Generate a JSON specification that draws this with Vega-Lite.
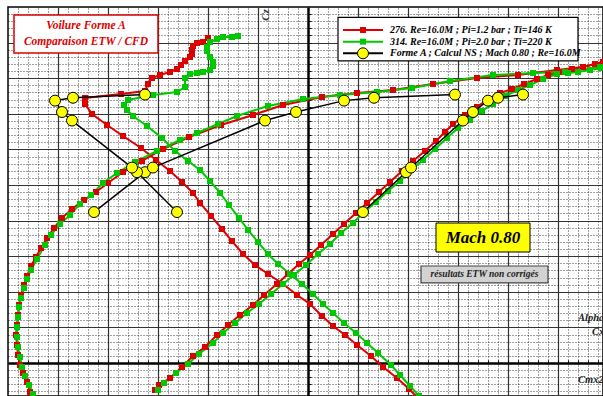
{
  "$schema": "https://vega.github.io/schema/vega-lite/v6.json",
  "width": 595,
  "height": 389,
  "autosize": "none",
  "padding": {"left": 8, "top": 7, "right": 0, "bottom": 0},
  "background": "white",
  "config": {"view": {"stroke": "black", "strokeWidth": 1.5}, "font": "Liberation Serif"},
  "datasets": {
    "etw": [
      {"serie": "276", "courbe": "alpha", "x": -15.3, "y": -3.79}, {"serie": "276", "courbe": "alpha", "x": -14.9, "y": -3.09}, {"serie": "276", "courbe": "alpha", "x": -13.8, "y": -2.11}, {"serie": "276", "courbe": "alpha", "x": -12.6, "y": -0.56}, {"serie": "276", "courbe": "alpha", "x": -11.5, "y": 0.98}, {"serie": "276", "courbe": "alpha", "x": -10.3, "y": 2.25}, {"serie": "276", "courbe": "alpha", "x": -9.1, "y": 3.93}, {"serie": "276", "courbe": "alpha", "x": -8.0, "y": 5.34}, {"serie": "276", "courbe": "alpha", "x": -6.8, "y": 6.74}, {"serie": "276", "courbe": "alpha", "x": -5.5, "y": 8.15}, {"serie": "276", "courbe": "alpha", "x": -4.4, "y": 9.55}, {"serie": "276", "courbe": "alpha", "x": -3.1, "y": 11.10}, {"serie": "276", "courbe": "alpha", "x": -2.0, "y": 12.50}, {"serie": "276", "courbe": "alpha", "x": -0.9, "y": 13.90}, {"serie": "276", "courbe": "alpha", "x": 0.2, "y": 15.17}, {"serie": "276", "courbe": "alpha", "x": 1.3, "y": 16.57}, {"serie": "276", "courbe": "alpha", "x": 2.5, "y": 18.12}, {"serie": "276", "courbe": "alpha", "x": 3.6, "y": 19.52}, {"serie": "276", "courbe": "alpha", "x": 4.8, "y": 21.07}, {"serie": "276", "courbe": "alpha", "x": 5.9, "y": 22.47}, {"serie": "276", "courbe": "alpha", "x": 7.1, "y": 24.02}, {"serie": "276", "courbe": "alpha", "x": 8.2, "y": 25.42}, {"serie": "276", "courbe": "alpha", "x": 9.4, "y": 26.97}, {"serie": "276", "courbe": "alpha", "x": 10.5, "y": 28.37}, {"serie": "276", "courbe": "alpha", "x": 11.7, "y": 29.78}, {"serie": "276", "courbe": "alpha", "x": 12.8, "y": 31.18}, {"serie": "276", "courbe": "alpha", "x": 13.7, "y": 32.44}, {"serie": "276", "courbe": "alpha", "x": 14.5, "y": 33.57}, {"serie": "276", "courbe": "alpha", "x": 15.7, "y": 34.83}, {"serie": "276", "courbe": "alpha", "x": 16.9, "y": 35.96}, {"serie": "276", "courbe": "alpha", "x": 18.0, "y": 37.08}, {"serie": "276", "courbe": "alpha", "x": 19.2, "y": 37.92}, {"serie": "276", "courbe": "alpha", "x": 20.4, "y": 38.48}, {"serie": "276", "courbe": "alpha", "x": 21.6, "y": 39.19}, {"serie": "276", "courbe": "alpha", "x": 22.9, "y": 39.89}, {"serie": "276", "courbe": "alpha", "x": 24.0, "y": 40.45}, {"serie": "276", "courbe": "alpha", "x": 25.2, "y": 40.87}, {"serie": "276", "courbe": "alpha", "x": 26.4, "y": 41.29}, {"serie": "276", "courbe": "alpha", "x": 27.5, "y": 41.57}, {"serie": "276", "courbe": "alpha", "x": 28.7, "y": 41.99}, {"serie": "276", "courbe": "alpha", "x": 29.8, "y": 42.28},
      {"serie": "276", "courbe": "polaire", "x": -27.8, "y": -4.07}, {"serie": "276", "courbe": "polaire", "x": -28.1, "y": -2.67}, {"serie": "276", "courbe": "polaire", "x": -28.5, "y": -1.40}, {"serie": "276", "courbe": "polaire", "x": -28.8, "y": -0.28}, {"serie": "276", "courbe": "polaire", "x": -29.0, "y": 1.12}, {"serie": "276", "courbe": "polaire", "x": -29.1, "y": 2.53}, {"serie": "276", "courbe": "polaire", "x": -29.2, "y": 3.93}, {"serie": "276", "courbe": "polaire", "x": -29.1, "y": 5.34}, {"serie": "276", "courbe": "polaire", "x": -29.0, "y": 6.74}, {"serie": "276", "courbe": "polaire", "x": -28.9, "y": 8.15}, {"serie": "276", "courbe": "polaire", "x": -28.7, "y": 9.55}, {"serie": "276", "courbe": "polaire", "x": -28.4, "y": 10.96}, {"serie": "276", "courbe": "polaire", "x": -28.1, "y": 12.22}, {"serie": "276", "courbe": "polaire", "x": -27.7, "y": 13.62}, {"serie": "276", "courbe": "polaire", "x": -27.2, "y": 14.89}, {"serie": "276", "courbe": "polaire", "x": -26.7, "y": 16.15}, {"serie": "276", "courbe": "polaire", "x": -26.1, "y": 17.56}, {"serie": "276", "courbe": "polaire", "x": -25.4, "y": 18.96}, {"serie": "276", "courbe": "polaire", "x": -24.6, "y": 20.37}, {"serie": "276", "courbe": "polaire", "x": -23.6, "y": 21.63}, {"serie": "276", "courbe": "polaire", "x": -22.4, "y": 22.89}, {"serie": "276", "courbe": "polaire", "x": -21.2, "y": 24.02}, {"serie": "276", "courbe": "polaire", "x": -20.0, "y": 25.28}, {"serie": "276", "courbe": "polaire", "x": -18.5, "y": 26.83}, {"serie": "276", "courbe": "polaire", "x": -16.6, "y": 28.37}, {"serie": "276", "courbe": "polaire", "x": -14.5, "y": 30.06}, {"serie": "276", "courbe": "polaire", "x": -11.9, "y": 31.74}, {"serie": "276", "courbe": "polaire", "x": -8.7, "y": 33.43}, {"serie": "276", "courbe": "polaire", "x": -5.5, "y": 34.83}, {"serie": "276", "courbe": "polaire", "x": -2.5, "y": 36.24}, {"serie": "276", "courbe": "polaire", "x": 1.4, "y": 37.36}, {"serie": "276", "courbe": "polaire", "x": 4.9, "y": 37.92}, {"serie": "276", "courbe": "polaire", "x": 8.5, "y": 38.34}, {"serie": "276", "courbe": "polaire", "x": 12.5, "y": 39.19}, {"serie": "276", "courbe": "polaire", "x": 16.9, "y": 40.03}, {"serie": "276", "courbe": "polaire", "x": 21.0, "y": 40.45}, {"serie": "276", "courbe": "polaire", "x": 24.9, "y": 41.15}, {"serie": "276", "courbe": "polaire", "x": 27.5, "y": 41.57}, {"serie": "276", "courbe": "polaire", "x": 29.5, "y": 42.28},
      {"serie": "276", "courbe": "moment", "x": -10.0, "y": 45.65}, {"serie": "276", "courbe": "moment", "x": -10.5, "y": 45.08}, {"serie": "276", "courbe": "moment", "x": -11.1, "y": 44.94}, {"serie": "276", "courbe": "moment", "x": -11.5, "y": 44.52}, {"serie": "276", "courbe": "moment", "x": -11.6, "y": 43.96}, {"serie": "276", "courbe": "moment", "x": -11.6, "y": 43.40}, {"serie": "276", "courbe": "moment", "x": -11.8, "y": 42.98}, {"serie": "276", "courbe": "moment", "x": -12.3, "y": 42.42}, {"serie": "276", "courbe": "moment", "x": -12.7, "y": 41.85}, {"serie": "276", "courbe": "moment", "x": -13.1, "y": 41.29}, {"serie": "276", "courbe": "moment", "x": -13.8, "y": 40.87}, {"serie": "276", "courbe": "moment", "x": -14.8, "y": 40.45}, {"serie": "276", "courbe": "moment", "x": -15.6, "y": 40.03}, {"serie": "276", "courbe": "moment", "x": -16.0, "y": 39.19}, {"serie": "276", "courbe": "moment", "x": -16.3, "y": 38.20}, {"serie": "276", "courbe": "moment", "x": -18.7, "y": 37.78}, {"serie": "276", "courbe": "moment", "x": -22.3, "y": 37.22}, {"serie": "276", "courbe": "moment", "x": -22.3, "y": 36.38}, {"serie": "276", "courbe": "moment", "x": -21.6, "y": 34.97}, {"serie": "276", "courbe": "moment", "x": -20.1, "y": 33.43}, {"serie": "276", "courbe": "moment", "x": -18.5, "y": 31.88}, {"serie": "276", "courbe": "moment", "x": -16.7, "y": 30.20}, {"serie": "276", "courbe": "moment", "x": -15.2, "y": 28.51}, {"serie": "276", "courbe": "moment", "x": -13.8, "y": 26.97}, {"serie": "276", "courbe": "moment", "x": -12.6, "y": 25.42}, {"serie": "276", "courbe": "moment", "x": -11.5, "y": 23.88}, {"serie": "276", "courbe": "moment", "x": -10.8, "y": 22.47}, {"serie": "276", "courbe": "moment", "x": -9.7, "y": 20.65}, {"serie": "276", "courbe": "moment", "x": -8.6, "y": 18.82}, {"serie": "276", "courbe": "moment", "x": -7.6, "y": 17.13}, {"serie": "276", "courbe": "moment", "x": -6.5, "y": 15.31}, {"serie": "276", "courbe": "moment", "x": -5.3, "y": 13.76}, {"serie": "276", "courbe": "moment", "x": -4.0, "y": 12.50}, {"serie": "276", "courbe": "moment", "x": -2.5, "y": 11.10}, {"serie": "276", "courbe": "moment", "x": -1.1, "y": 9.55}, {"serie": "276", "courbe": "moment", "x": 0.2, "y": 8.29}, {"serie": "276", "courbe": "moment", "x": 1.4, "y": 6.60}, {"serie": "276", "courbe": "moment", "x": 2.5, "y": 5.20}, {"serie": "276", "courbe": "moment", "x": 3.7, "y": 3.93}, {"serie": "276", "courbe": "moment", "x": 4.9, "y": 2.53}, {"serie": "276", "courbe": "moment", "x": 6.3, "y": 0.98}, {"serie": "276", "courbe": "moment", "x": 7.5, "y": -0.56}, {"serie": "276", "courbe": "moment", "x": 8.9, "y": -2.11}, {"serie": "276", "courbe": "moment", "x": 10.1, "y": -3.65}, {"serie": "276", "courbe": "moment", "x": 11.2, "y": -5.20},
      {"serie": "314", "courbe": "alpha", "x": -15.0, "y": -3.79}, {"serie": "314", "courbe": "alpha", "x": -14.4, "y": -2.81}, {"serie": "314", "courbe": "alpha", "x": -13.2, "y": -1.40}, {"serie": "314", "courbe": "alpha", "x": -12.0, "y": -0.14}, {"serie": "314", "courbe": "alpha", "x": -10.9, "y": 1.26}, {"serie": "314", "courbe": "alpha", "x": -9.5, "y": 2.81}, {"serie": "314", "courbe": "alpha", "x": -8.5, "y": 4.21}, {"serie": "314", "courbe": "alpha", "x": -7.3, "y": 5.62}, {"serie": "314", "courbe": "alpha", "x": -6.1, "y": 7.02}, {"serie": "314", "courbe": "alpha", "x": -4.9, "y": 8.29}, {"serie": "314", "courbe": "alpha", "x": -3.7, "y": 9.69}, {"serie": "314", "courbe": "alpha", "x": -2.5, "y": 11.10}, {"serie": "314", "courbe": "alpha", "x": -1.4, "y": 12.36}, {"serie": "314", "courbe": "alpha", "x": -0.2, "y": 13.76}, {"serie": "314", "courbe": "alpha", "x": 1.0, "y": 15.31}, {"serie": "314", "courbe": "alpha", "x": 2.2, "y": 16.71}, {"serie": "314", "courbe": "alpha", "x": 3.3, "y": 18.26}, {"serie": "314", "courbe": "alpha", "x": 4.5, "y": 19.66}, {"serie": "314", "courbe": "alpha", "x": 5.6, "y": 21.21}, {"serie": "314", "courbe": "alpha", "x": 6.8, "y": 22.61}, {"serie": "314", "courbe": "alpha", "x": 8.0, "y": 24.16}, {"serie": "314", "courbe": "alpha", "x": 9.2, "y": 25.56}, {"serie": "314", "courbe": "alpha", "x": 10.3, "y": 27.11}, {"serie": "314", "courbe": "alpha", "x": 11.5, "y": 28.51}, {"serie": "314", "courbe": "alpha", "x": 12.7, "y": 30.06}, {"serie": "314", "courbe": "alpha", "x": 13.9, "y": 31.60}, {"serie": "314", "courbe": "alpha", "x": 15.0, "y": 33.01}, {"serie": "314", "courbe": "alpha", "x": 16.2, "y": 34.13}, {"serie": "314", "courbe": "alpha", "x": 17.4, "y": 35.39}, {"serie": "314", "courbe": "alpha", "x": 18.5, "y": 36.38}, {"serie": "314", "courbe": "alpha", "x": 19.7, "y": 37.50}, {"serie": "314", "courbe": "alpha", "x": 21.0, "y": 38.34}, {"serie": "314", "courbe": "alpha", "x": 22.2, "y": 39.04}, {"serie": "314", "courbe": "alpha", "x": 23.5, "y": 39.89}, {"serie": "314", "courbe": "alpha", "x": 24.9, "y": 40.59}, {"serie": "314", "courbe": "alpha", "x": 26.0, "y": 40.73}, {"serie": "314", "courbe": "alpha", "x": 27.0, "y": 40.87}, {"serie": "314", "courbe": "alpha", "x": 28.2, "y": 41.15}, {"serie": "314", "courbe": "alpha", "x": 29.3, "y": 41.43},
      {"serie": "314", "courbe": "polaire", "x": -27.5, "y": -4.35}, {"serie": "314", "courbe": "polaire", "x": -27.9, "y": -3.09}, {"serie": "314", "courbe": "polaire", "x": -28.3, "y": -1.83}, {"serie": "314", "courbe": "polaire", "x": -28.6, "y": -0.56}, {"serie": "314", "courbe": "polaire", "x": -28.8, "y": 0.84}, {"serie": "314", "courbe": "polaire", "x": -29.0, "y": 2.25}, {"serie": "314", "courbe": "polaire", "x": -29.1, "y": 3.65}, {"serie": "314", "courbe": "polaire", "x": -29.1, "y": 5.06}, {"serie": "314", "courbe": "polaire", "x": -29.0, "y": 6.46}, {"serie": "314", "courbe": "polaire", "x": -28.9, "y": 7.87}, {"serie": "314", "courbe": "polaire", "x": -28.7, "y": 9.13}, {"serie": "314", "courbe": "polaire", "x": -28.4, "y": 10.53}, {"serie": "314", "courbe": "polaire", "x": -28.1, "y": 11.80}, {"serie": "314", "courbe": "polaire", "x": -27.7, "y": 13.06}, {"serie": "314", "courbe": "polaire", "x": -27.1, "y": 14.61}, {"serie": "314", "courbe": "polaire", "x": -26.3, "y": 16.57}, {"serie": "314", "courbe": "polaire", "x": -25.7, "y": 17.98}, {"serie": "314", "courbe": "polaire", "x": -24.8, "y": 19.52}, {"serie": "314", "courbe": "polaire", "x": -23.8, "y": 20.79}, {"serie": "314", "courbe": "polaire", "x": -22.8, "y": 22.33}, {"serie": "314", "courbe": "polaire", "x": -21.7, "y": 23.60}, {"serie": "314", "courbe": "polaire", "x": -20.5, "y": 25.28}, {"serie": "314", "courbe": "polaire", "x": -19.1, "y": 26.69}, {"serie": "314", "courbe": "polaire", "x": -17.3, "y": 28.23}, {"serie": "314", "courbe": "polaire", "x": -15.1, "y": 29.78}, {"serie": "314", "courbe": "polaire", "x": -12.8, "y": 31.32}, {"serie": "314", "courbe": "polaire", "x": -11.1, "y": 32.30}, {"serie": "314", "courbe": "polaire", "x": -9.0, "y": 33.57}, {"serie": "314", "courbe": "polaire", "x": -7.1, "y": 34.69}, {"serie": "314", "courbe": "polaire", "x": -4.0, "y": 36.10}, {"serie": "314", "courbe": "polaire", "x": -0.5, "y": 37.08}, {"serie": "314", "courbe": "polaire", "x": 3.2, "y": 37.64}, {"serie": "314", "courbe": "polaire", "x": 6.9, "y": 38.06}, {"serie": "314", "courbe": "polaire", "x": 10.4, "y": 38.62}, {"serie": "314", "courbe": "polaire", "x": 14.2, "y": 39.61}, {"serie": "314", "courbe": "polaire", "x": 18.5, "y": 40.45}, {"serie": "314", "courbe": "polaire", "x": 22.5, "y": 40.73}, {"serie": "314", "courbe": "polaire", "x": 25.7, "y": 40.87}, {"serie": "314", "courbe": "polaire", "x": 29.2, "y": 41.57},
      {"serie": "314", "courbe": "moment", "x": -7.0, "y": 45.93}, {"serie": "314", "courbe": "moment", "x": -7.6, "y": 45.79}, {"serie": "314", "courbe": "moment", "x": -8.5, "y": 45.79}, {"serie": "314", "courbe": "moment", "x": -9.1, "y": 45.51}, {"serie": "314", "courbe": "moment", "x": -9.8, "y": 45.08}, {"serie": "314", "courbe": "moment", "x": -10.1, "y": 44.38}, {"serie": "314", "courbe": "moment", "x": -10.1, "y": 43.82}, {"serie": "314", "courbe": "moment", "x": -9.8, "y": 42.98}, {"serie": "314", "courbe": "moment", "x": -9.5, "y": 42.28}, {"serie": "314", "courbe": "moment", "x": -9.5, "y": 41.71}, {"serie": "314", "courbe": "moment", "x": -9.8, "y": 41.15}, {"serie": "314", "courbe": "moment", "x": -10.5, "y": 40.87}, {"serie": "314", "courbe": "moment", "x": -11.1, "y": 40.73}, {"serie": "314", "courbe": "moment", "x": -11.8, "y": 40.59}, {"serie": "314", "courbe": "moment", "x": -12.3, "y": 40.03}, {"serie": "314", "courbe": "moment", "x": -12.3, "y": 38.76}, {"serie": "314", "courbe": "moment", "x": -13.1, "y": 38.06}, {"serie": "314", "courbe": "moment", "x": -15.5, "y": 37.64}, {"serie": "314", "courbe": "moment", "x": -18.0, "y": 36.94}, {"serie": "314", "courbe": "moment", "x": -18.4, "y": 36.24}, {"serie": "314", "courbe": "moment", "x": -18.1, "y": 35.53}, {"serie": "314", "courbe": "moment", "x": -17.5, "y": 34.69}, {"serie": "314", "courbe": "moment", "x": -16.1, "y": 33.29}, {"serie": "314", "courbe": "moment", "x": -14.6, "y": 31.60}, {"serie": "314", "courbe": "moment", "x": -13.3, "y": 29.78}, {"serie": "314", "courbe": "moment", "x": -12.0, "y": 28.37}, {"serie": "314", "courbe": "moment", "x": -10.8, "y": 27.11}, {"serie": "314", "courbe": "moment", "x": -9.8, "y": 25.56}, {"serie": "314", "courbe": "moment", "x": -8.8, "y": 23.88}, {"serie": "314", "courbe": "moment", "x": -7.9, "y": 22.19}, {"serie": "314", "courbe": "moment", "x": -6.9, "y": 20.37}, {"serie": "314", "courbe": "moment", "x": -6.0, "y": 18.68}, {"serie": "314", "courbe": "moment", "x": -5.0, "y": 16.99}, {"serie": "314", "courbe": "moment", "x": -4.0, "y": 15.31}, {"serie": "314", "courbe": "moment", "x": -3.0, "y": 13.90}, {"serie": "314", "courbe": "moment", "x": -1.8, "y": 12.50}, {"serie": "314", "courbe": "moment", "x": -0.6, "y": 11.10}, {"serie": "314", "courbe": "moment", "x": 0.5, "y": 9.69}, {"serie": "314", "courbe": "moment", "x": 1.5, "y": 8.29}, {"serie": "314", "courbe": "moment", "x": 2.5, "y": 7.02}, {"serie": "314", "courbe": "moment", "x": 3.6, "y": 5.62}, {"serie": "314", "courbe": "moment", "x": 4.8, "y": 4.21}, {"serie": "314", "courbe": "moment", "x": 5.9, "y": 2.81}, {"serie": "314", "courbe": "moment", "x": 7.0, "y": 1.40}, {"serie": "314", "courbe": "moment", "x": 8.3, "y": -0.28}, {"serie": "314", "courbe": "moment", "x": 9.2, "y": -1.69}, {"serie": "314", "courbe": "moment", "x": 10.2, "y": -3.23}, {"serie": "314", "courbe": "moment", "x": 11.1, "y": -4.63}
    ],
    "ns": [
      {"courbe": "polaire", "x": -21.4, "y": 21.2}, {"courbe": "polaire", "x": -16.3, "y": 26.8}, {"courbe": "polaire", "x": -15.5, "y": 27.45}, {"courbe": "polaire", "x": -4.3, "y": 34.05}, {"courbe": "polaire", "x": -1.2, "y": 35.25}, {"courbe": "polaire", "x": 3.6, "y": 36.85}, {"courbe": "polaire", "x": 6.6, "y": 37.25}, {"courbe": "polaire", "x": 14.7, "y": 37.7},
      {"courbe": "moment", "x": -13.1, "y": 21.2}, {"courbe": "moment", "x": -17.1, "y": 26.8}, {"courbe": "moment", "x": -17.6, "y": 27.45}, {"courbe": "moment", "x": -23.6, "y": 34.05}, {"courbe": "moment", "x": -24.6, "y": 35.25}, {"courbe": "moment", "x": -25.3, "y": 36.85}, {"courbe": "moment", "x": -23.5, "y": 37.25}, {"courbe": "moment", "x": -16.3, "y": 37.7},
      {"courbe": "alpha", "x": 5.5, "y": 21.2}, {"courbe": "alpha", "x": 9.8, "y": 26.8}, {"courbe": "alpha", "x": 10.3, "y": 27.45}, {"courbe": "alpha", "x": 15.5, "y": 34.05}, {"courbe": "alpha", "x": 16.5, "y": 35.25}, {"courbe": "alpha", "x": 18.0, "y": 36.85}, {"courbe": "alpha", "x": 19.0, "y": 37.25}, {"courbe": "alpha", "x": 21.5, "y": 37.7}
    ]
  },
  "layer": [
    {
      "data": {"name": "etw"},
      "mark": {"type": "line", "strokeWidth": 2, "clip": true},
      "encoding": {
        "x": {"field": "x", "type": "quantitative", "scale": {"domain": [-30, 29.5], "nice": false, "zero": false},
          "axis": {"orient": "top", "offset": -356, "values": [-29,-28,-27,-26,-25,-24,-23,-22,-21,-20,-19,-18,-17,-16,-15,-14,-13,-12,-11,-10,-9,-8,-7,-6,-5,-4,-3,-2,-1,0,1,2,3,4,5,6,7,8,9,10,11,12,13,14,15,16,17,18,19,20,21,22,23,24,25,26,27,28,29],
            "labels": false, "title": null, "ticks": true, "tickSize": 3, "tickColor": "#000", "tickWidth": 1,
            "domain": true, "domainColor": "#000", "domainWidth": 2.5,
            "grid": true, "gridColor": "#000", "gridDash": [1, 2], "gridOpacity": 0.75, "gridWidth": 1}},
        "y": {"field": "y", "type": "quantitative", "scale": {"domain": [-4.635, 50], "nice": false, "zero": false},
          "axis": {"orient": "right", "offset": -295, "values": [-4,-3,-2,-1,0,1,2,3,4,5,6,7,8,9,10,11,12,13,14,15,16,17,18,19,20,21,22,23,24,25,26,27,28,29,30,31,32,33,34,35,36,37,38,39,40,41,42,43,44,45,46,47,48,49],
            "labels": false, "title": null, "ticks": true, "tickSize": 3, "tickColor": "#000", "tickWidth": 1,
            "domain": true, "domainColor": "#000", "domainWidth": 2.5,
            "grid": true, "gridColor": "#000", "gridDash": [1, 2], "gridOpacity": 0.75, "gridWidth": 1}},
        "color": {"field": "serie", "type": "nominal",
          "scale": {"domain": ["276", "314"], "range": ["#dc0000", "#00c800"]},
          "legend": null},
        "detail": {"field": "courbe"},
        "order": {"value": null}
      }
    },
    {
      "data": {"name": "etw"},
      "mark": {"type": "square", "size": 36, "filled": true, "opacity": 1, "clip": true},
      "encoding": {
        "x": {"field": "x", "type": "quantitative", "scale": {"domain": [-30, 29.5], "nice": false, "zero": false}, "axis": null},
        "y": {"field": "y", "type": "quantitative", "scale": {"domain": [-4.635, 50], "nice": false, "zero": false}, "axis": null},
        "color": {"field": "serie", "type": "nominal", "legend": null}
      }
    },
    {
      "data": {"name": "ns"},
      "mark": {"type": "line", "strokeWidth": 1.5, "color": "#000000", "clip": true},
      "encoding": {
        "x": {"field": "x", "type": "quantitative", "scale": {"domain": [-30, 29.5], "nice": false, "zero": false},
          "axis": {"orient": "bottom", "values": [-25,-20,-15,-10,-5,5,10,15,20,25], "labels": false, "title": null, "ticks": false, "domain": false,
            "grid": true, "gridColor": "#333", "gridWidth": 1.2, "gridOpacity": 1}},
        "y": {"field": "y", "type": "quantitative", "scale": {"domain": [-4.635, 50], "nice": false, "zero": false},
          "axis": {"orient": "left", "values": [5,10,15,20,25,30,35,40,45], "labels": false, "title": null, "ticks": false, "domain": false,
            "grid": true, "gridColor": "#333", "gridWidth": 1.2, "gridOpacity": 1}},
        "detail": {"field": "courbe"},
        "order": {"value": null}
      }
    },
    {
      "data": {"name": "ns"},
      "mark": {"type": "point", "shape": "circle", "size": 120, "filled": true, "fill": "#ffff00", "stroke": "#000000", "strokeWidth": 1, "opacity": 1, "clip": true},
      "encoding": {
        "x": {"field": "x", "type": "quantitative", "scale": {"domain": [-30, 29.5], "nice": false, "zero": false}, "axis": null},
        "y": {"field": "y", "type": "quantitative", "scale": {"domain": [-4.635, 50], "nice": false, "zero": false}, "axis": null}
      }
    },
    {
      "data": {"values": [{}]},
      "mark": {"type": "rect", "fill": "white", "stroke": "#dc0000", "strokeWidth": 1.5},
      "encoding": {
        "x": {"datum": -29.4, "scale": {"domain": [-30, 29.5], "nice": false, "zero": false}, "axis": null},
        "x2": {"datum": -15.0},
        "y": {"datum": 48.88, "scale": {"domain": [-4.635, 50], "nice": false, "zero": false}, "axis": null},
        "y2": {"datum": 43.54}
      }
    },
    {
      "data": {"values": [{}]},
      "mark": {"type": "text", "text": ["Voilure Forme A", "Comparaison ETW / CFD"], "lineHeight": 16, "font": "Liberation Serif", "fontStyle": "italic", "fontWeight": "bold", "fontSize": 11.5, "fill": "#dc0000", "align": "center", "baseline": "middle"},
      "encoding": {
        "x": {"datum": -22.2, "scale": {"domain": [-30, 29.5], "nice": false, "zero": false}, "axis": null},
        "y": {"datum": 47.33, "scale": {"domain": [-4.635, 50], "nice": false, "zero": false}, "axis": null}
      }
    },
    {
      "data": {"values": [{}]},
      "mark": {"type": "rect", "fill": "white", "stroke": "#000000", "strokeWidth": 1.2},
      "encoding": {
        "x": {"datum": 3.0, "scale": {"domain": [-30, 29.5], "nice": false, "zero": false}, "axis": null},
        "x2": {"datum": 27.0},
        "y": {"datum": 48.53, "scale": {"domain": [-4.635, 50], "nice": false, "zero": false}, "axis": null},
        "y2": {"datum": 42.42}
      }
    },
    {
      "data": {"values": [{}]},
      "mark": {"type": "rule", "stroke": "#dc0000", "strokeWidth": 2},
      "encoding": {
        "x": {"datum": 3.5, "scale": {"domain": [-30, 29.5], "nice": false, "zero": false}, "axis": null},
        "x2": {"datum": 7.5},
        "y": {"datum": 46.77, "scale": {"domain": [-4.635, 50], "nice": false, "zero": false}, "axis": null}
      }
    },
    {
      "data": {"values": [{}]},
      "mark": {"type": "square", "size": 36, "filled": true, "fill": "#dc0000", "opacity": 1},
      "encoding": {
        "x": {"datum": 5.5, "scale": {"domain": [-30, 29.5], "nice": false, "zero": false}, "axis": null},
        "y": {"datum": 46.77, "scale": {"domain": [-4.635, 50], "nice": false, "zero": false}, "axis": null}
      }
    },
    {
      "data": {"values": [{}]},
      "mark": {"type": "rule", "stroke": "#00c800", "strokeWidth": 2},
      "encoding": {
        "x": {"datum": 3.5, "scale": {"domain": [-30, 29.5], "nice": false, "zero": false}, "axis": null},
        "x2": {"datum": 7.5},
        "y": {"datum": 45.13, "scale": {"domain": [-4.635, 50], "nice": false, "zero": false}, "axis": null}
      }
    },
    {
      "data": {"values": [{}]},
      "mark": {"type": "square", "size": 36, "filled": true, "fill": "#00c800", "opacity": 1},
      "encoding": {
        "x": {"datum": 5.5, "scale": {"domain": [-30, 29.5], "nice": false, "zero": false}, "axis": null},
        "y": {"datum": 45.13, "scale": {"domain": [-4.635, 50], "nice": false, "zero": false}, "axis": null}
      }
    },
    {
      "data": {"values": [{}]},
      "mark": {"type": "rule", "stroke": "#000000", "strokeWidth": 2},
      "encoding": {
        "x": {"datum": 3.5, "scale": {"domain": [-30, 29.5], "nice": false, "zero": false}, "axis": null},
        "x2": {"datum": 7.5},
        "y": {"datum": 43.50, "scale": {"domain": [-4.635, 50], "nice": false, "zero": false}, "axis": null}
      }
    },
    {
      "data": {"values": [{}]},
      "mark": {"type": "point", "shape": "circle", "size": 120, "filled": true, "fill": "#ffff00", "stroke": "#000000", "strokeWidth": 1, "opacity": 1},
      "encoding": {
        "x": {"datum": 5.5, "scale": {"domain": [-30, 29.5], "nice": false, "zero": false}, "axis": null},
        "y": {"datum": 43.50, "scale": {"domain": [-4.635, 50], "nice": false, "zero": false}, "axis": null}
      }
    },
    {
      "data": {"values": [{}]},
      "mark": {"type": "text", "text": ["276.  Re=16.0M ; Pi=1.2 bar ; Ti=146 K", "314.  Re=16.0M ; Pi=2.0 bar ; Ti=220 K", "Forme A ; Calcul NS ; Mach 0.80 ; Re=16.0M"], "lineHeight": 11.65, "font": "Liberation Serif", "fontStyle": "italic", "fontWeight": "bold", "fontSize": 10, "fill": "#000000", "align": "left", "baseline": "middle"},
      "encoding": {
        "x": {"datum": 8.2, "scale": {"domain": [-30, 29.5], "nice": false, "zero": false}, "axis": null},
        "y": {"datum": 46.77, "scale": {"domain": [-4.635, 50], "nice": false, "zero": false}, "axis": null}
      }
    },
    {
      "data": {"values": [{}]},
      "mark": {"type": "rect", "fill": "#ffff00", "stroke": "#000000", "strokeWidth": 1},
      "encoding": {
        "x": {"datum": 12.8, "scale": {"domain": [-30, 29.5], "nice": false, "zero": false}, "axis": null},
        "x2": {"datum": 22.2},
        "y": {"datum": 19.66, "scale": {"domain": [-4.635, 50], "nice": false, "zero": false}, "axis": null},
        "y2": {"datum": 15.59}
      }
    },
    {
      "data": {"values": [{}]},
      "mark": {"type": "text", "text": "Mach 0.80", "font": "Liberation Serif", "fontStyle": "italic", "fontWeight": "bold", "fontSize": 17, "fill": "#000000", "align": "center", "baseline": "middle"},
      "encoding": {
        "x": {"datum": 17.5, "scale": {"domain": [-30, 29.5], "nice": false, "zero": false}, "axis": null},
        "y": {"datum": 17.56, "scale": {"domain": [-4.635, 50], "nice": false, "zero": false}, "axis": null}
      }
    },
    {
      "data": {"values": [{}]},
      "mark": {"type": "rect", "fill": "#d2d2d2", "stroke": "#444444", "strokeWidth": 1.2},
      "encoding": {
        "x": {"datum": 11.3, "scale": {"domain": [-30, 29.5], "nice": false, "zero": false}, "axis": null},
        "x2": {"datum": 24.0},
        "y": {"datum": 13.62, "scale": {"domain": [-4.635, 50], "nice": false, "zero": false}, "axis": null},
        "y2": {"datum": 11.24}
      }
    },
    {
      "data": {"values": [{}]},
      "mark": {"type": "text", "text": "résultats ETW non corrigés", "font": "Liberation Serif", "fontStyle": "italic", "fontWeight": "bold", "fontSize": 9.5, "fill": "#222222", "align": "center", "baseline": "middle"},
      "encoding": {
        "x": {"datum": 17.65, "scale": {"domain": [-30, 29.5], "nice": false, "zero": false}, "axis": null},
        "y": {"datum": 12.43, "scale": {"domain": [-4.635, 50], "nice": false, "zero": false}, "axis": null}
      }
    },
    {
      "data": {"values": [{}]},
      "mark": {"type": "text", "text": "Cz", "angle": 270, "font": "Liberation Serif", "fontStyle": "italic", "fontWeight": "bold", "fontSize": 11, "fill": "#333333", "align": "center", "baseline": "middle"},
      "encoding": {
        "x": {"datum": -4.2, "scale": {"domain": [-30, 29.5], "nice": false, "zero": false}, "axis": null},
        "y": {"datum": 48.88, "scale": {"domain": [-4.635, 50], "nice": false, "zero": false}, "axis": null}
      }
    },
    {
      "data": {"values": [{}]},
      "mark": {"type": "text", "text": "Alpha", "font": "Liberation Serif", "fontStyle": "italic", "fontWeight": "bold", "fontSize": 10.5, "fill": "#222222", "align": "left", "baseline": "middle"},
      "encoding": {
        "x": {"datum": 27.0, "scale": {"domain": [-30, 29.5], "nice": false, "zero": false}, "axis": null},
        "y": {"datum": 6.32, "scale": {"domain": [-4.635, 50], "nice": false, "zero": false}, "axis": null}
      }
    },
    {
      "data": {"values": [{}]},
      "mark": {"type": "text", "text": "Cx", "font": "Liberation Serif", "fontStyle": "italic", "fontWeight": "bold", "fontSize": 10.5, "fill": "#222222", "align": "left", "baseline": "middle"},
      "encoding": {
        "x": {"datum": 28.4, "scale": {"domain": [-30, 29.5], "nice": false, "zero": false}, "axis": null},
        "y": {"datum": 4.35, "scale": {"domain": [-4.635, 50], "nice": false, "zero": false}, "axis": null}
      }
    },
    {
      "data": {"values": [{}]},
      "mark": {"type": "text", "text": "Cmx2", "font": "Liberation Serif", "fontStyle": "italic", "fontWeight": "bold", "fontSize": 10.5, "fill": "#222222", "align": "left", "baseline": "middle"},
      "encoding": {
        "x": {"datum": 27.0, "scale": {"domain": [-30, 29.5], "nice": false, "zero": false}, "axis": null},
        "y": {"datum": -2.39, "scale": {"domain": [-4.635, 50], "nice": false, "zero": false}, "axis": null}
      }
    }
  ],
  "resolve": {"axis": {"x": "independent", "y": "independent"}}
}
